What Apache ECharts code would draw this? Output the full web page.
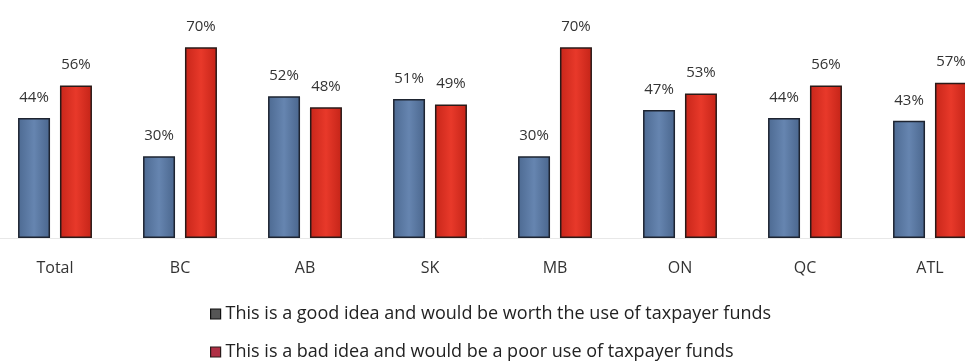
<!DOCTYPE html>
<html><head><meta charset="utf-8">
<script src="https://cdn.jsdelivr.net/npm/echarts@6/dist/echarts.min.js"></script>
<style>html,body{margin:0;padding:0;background:#fff}#c{width:965px;height:361px}</style>
</head><body><div id="c"></div>
<script>
const categories = ['Total','BC','AB','SK','MB','ON','QC','ATL'];
const goodIdea = [44,30,52,51,30,47,44,43];
const badIdea = [56,70,48,49,70,53,56,57];
const seriesNames = ['This is a good idea and would be worth the use of taxpayer funds','This is a bad idea and would be a poor use of taxpayer funds'];

const font = 'Open Sans';
const chart = echarts.init(document.getElementById('c'));
function grad(c1,c2,c3){return new echarts.graphic.LinearGradient(0,0,1,0,[{offset:0,color:c1},{offset:0.5,color:c2},{offset:1,color:c3}]);}
const lbl = {show:true,position:'top',distance:13,formatter:'{c}%',color:'#333',fontSize:15,fontFamily:font};
const legendText = {fontSize:18,color:'#222',fontFamily:font};
chart.setOption({
  animation:false,
  backgroundColor:'#fff',
  grid:{left:-7.5,width:1000,top:20,bottom:123,containLabel:false,outerBoundsMode:'none'},
  legend:[
    {left:205,top:300,itemWidth:10,itemHeight:10,icon:'rect',itemGap:10,textStyle:legendText,
      data:[{name:seriesNames[0],itemStyle:{color:'#555',borderColor:'#111',borderWidth:1.2}}]},
    {left:205,top:338,itemWidth:10,itemHeight:10,icon:'rect',itemGap:10,textStyle:legendText,
      data:[{name:seriesNames[1],itemStyle:{color:'#b03045',borderColor:'#2a1a1a',borderWidth:1.2}}]}
  ],
  xAxis:{type:'category',data:categories,axisLine:{show:true,lineStyle:{color:'#e8e8e8'}},axisTick:{show:false},
    axisLabel:{margin:22,fontSize:16,color:'#333',fontFamily:font}},
  yAxis:{type:'value',min:0,max:80,show:false,splitLine:{show:false}},
  series:[
    {name:seriesNames[0],type:'bar',data:goodIdea,barWidth:32,barGap:'31%',label:lbl,
      itemStyle:{color:grad('#4d6a92','#6685b0','#4a668d'),borderColor:'#1e2430',borderWidth:1.5}},
    {name:seriesNames[1],type:'bar',data:badIdea,barWidth:32,label:lbl,
      itemStyle:{color:grad('#c8261a','#e8392a','#c42418'),borderColor:'#2a1a18',borderWidth:1.5}}
  ]
});
</script></body></html>
